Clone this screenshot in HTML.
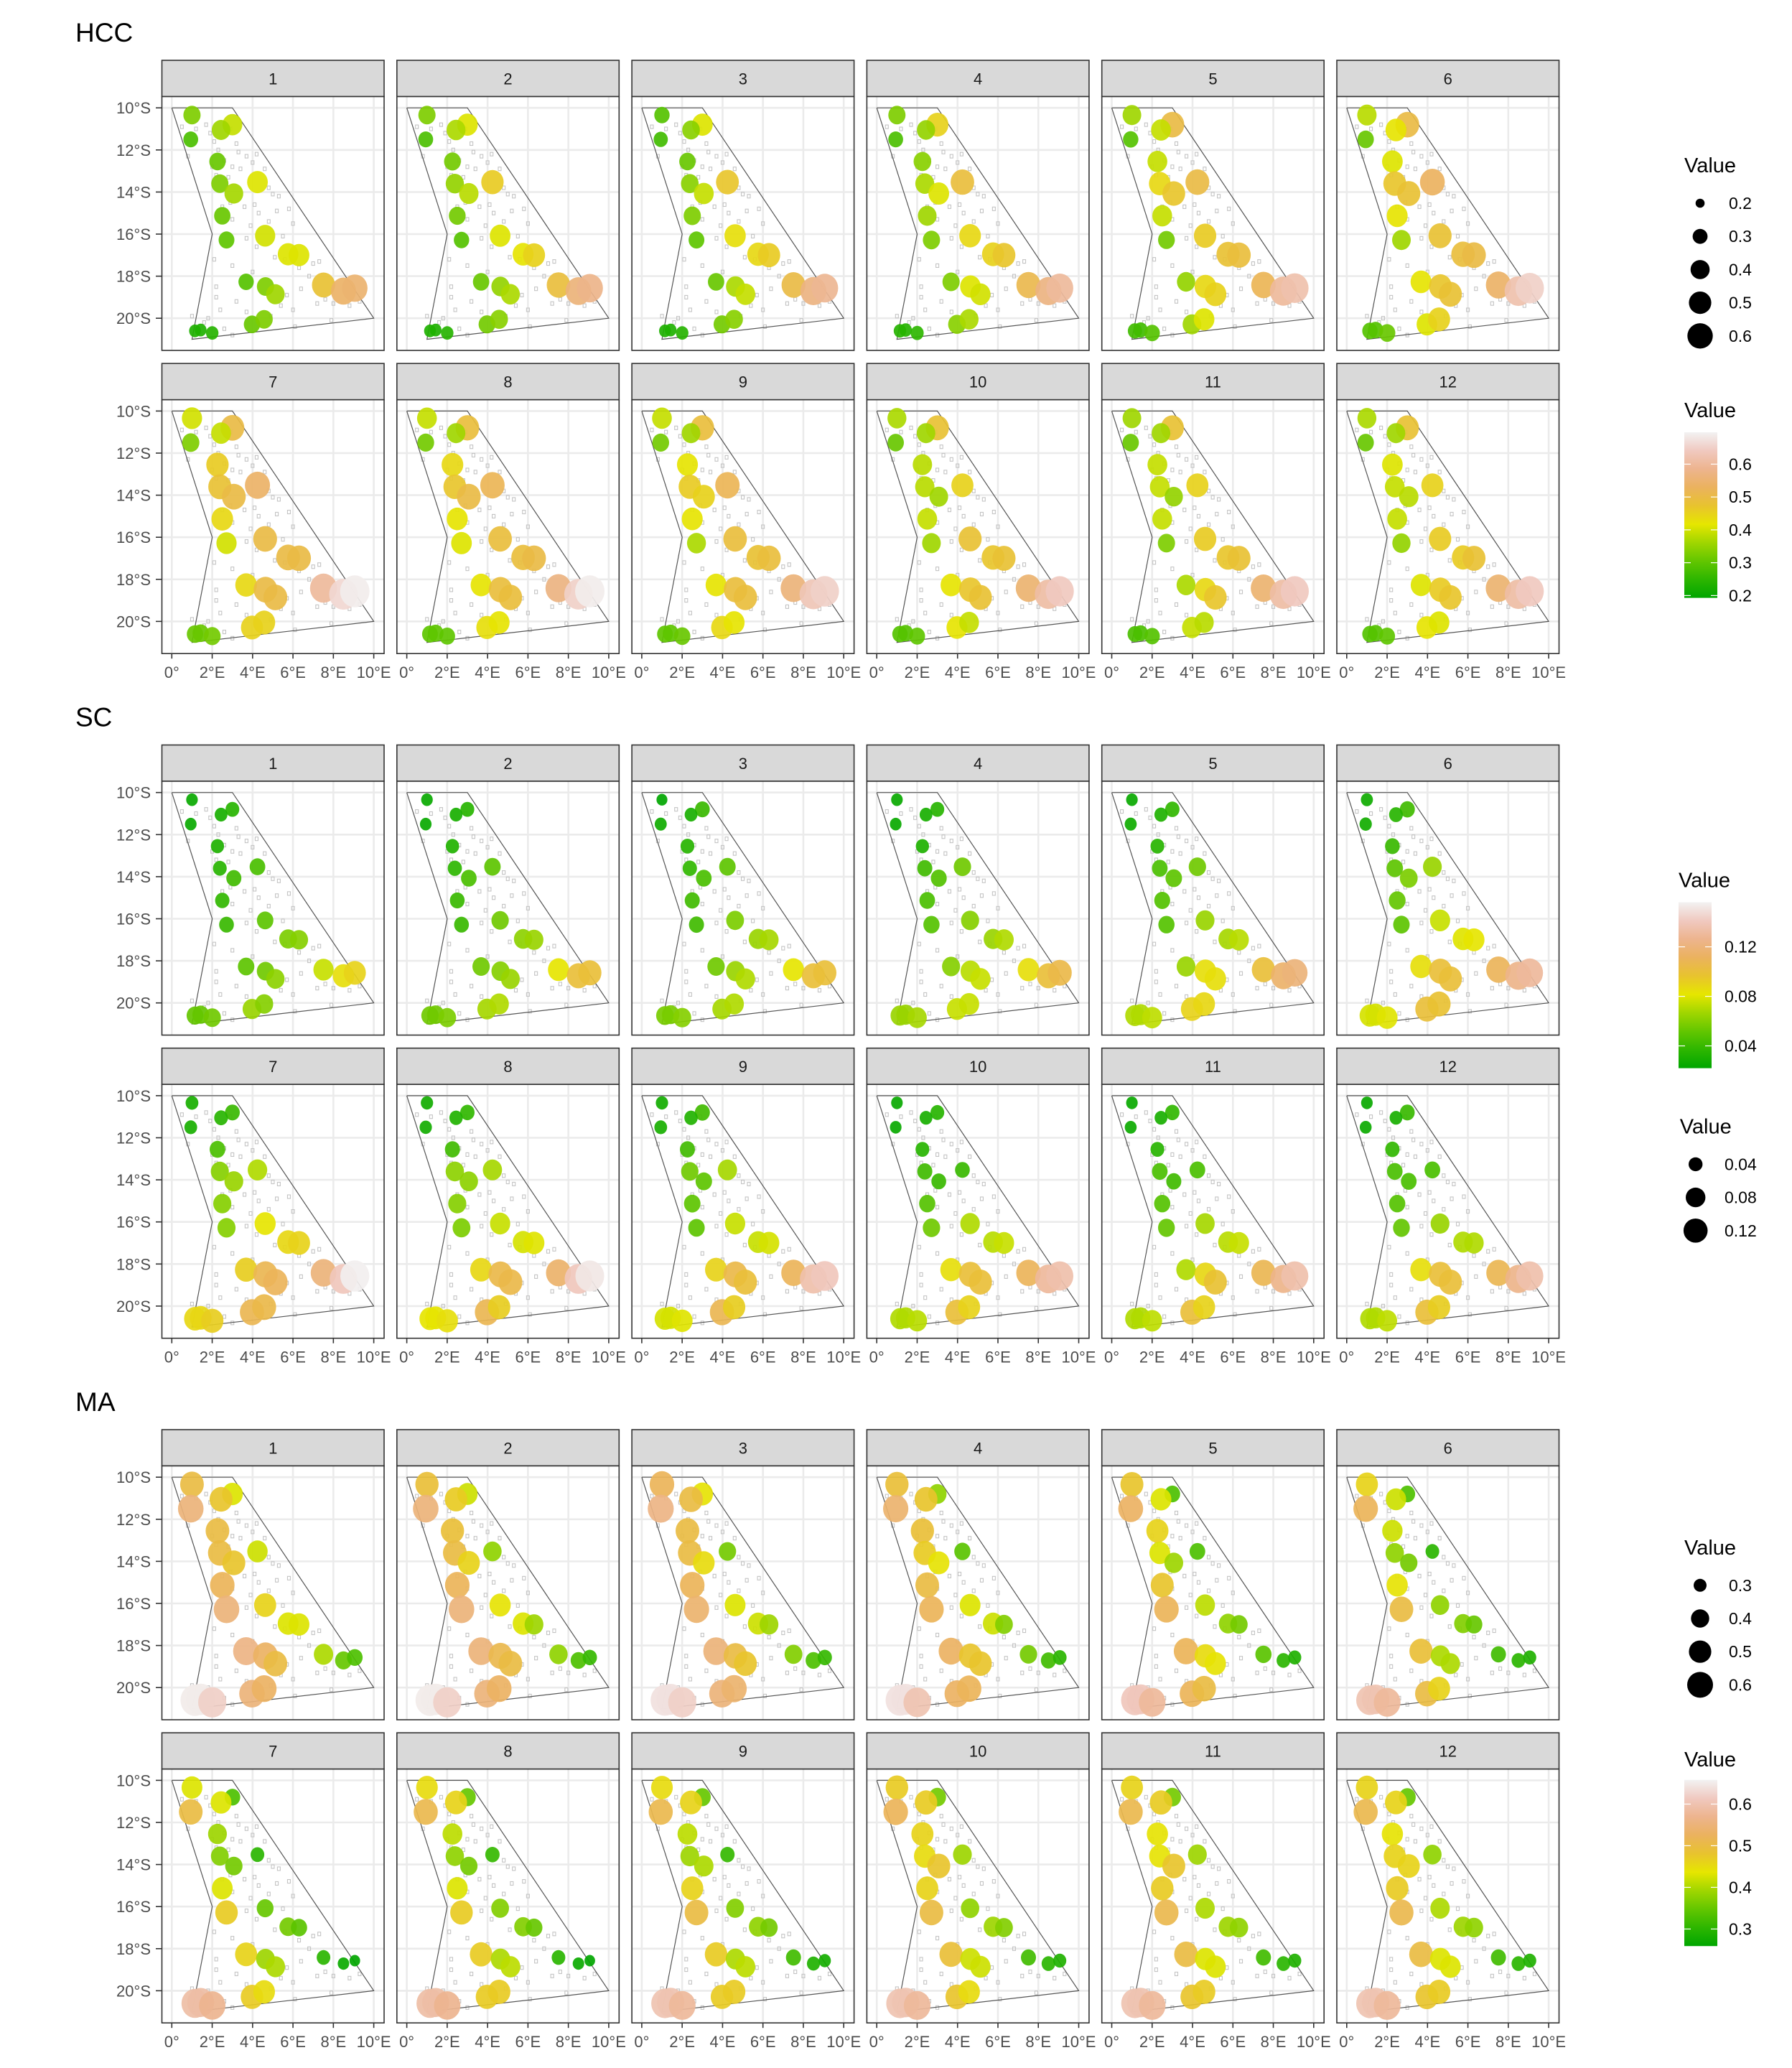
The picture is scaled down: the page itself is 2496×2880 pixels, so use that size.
<!DOCTYPE html>
<html><head><meta charset="utf-8"><style>
html,body{margin:0;padding:0;background:#fff;}
svg{display:block;font-family:"Liberation Sans",Arial,sans-serif;}
</style></head><body>
<svg id="fig" xmlns="http://www.w3.org/2000/svg" width="2496" height="2880" viewBox="0 0 2496 2880"></svg>
<script>
// ---- data ----
const stationLon = [1.0,3.0,2.44,0.94,2.26,2.38,4.24,3.07,2.5,2.71,4.62,5.76,6.3,3.68,4.64,5.13,7.51,8.5,9.06,3.97,4.57,1.43,1.15,2.0];
const stationLat = [10.34,10.8,11.05,11.5,12.55,13.6,13.53,14.07,15.13,16.28,16.08,16.96,17.0,18.27,18.49,18.86,18.42,18.71,18.57,20.29,20.05,20.56,20.6,20.7];
const monthLabels = ["1","2","3","4","5","6","7","8","9","10","11","12"];
const sectionNames = ["HCC","SC","MA"];
const lonTicks = [0,2,4,6,8,10];
const lonTickLabels = ["0°","2°E","4°E","6°E","8°E","10°E"];
const latTicks = [10,12,14,16,18,20];
const latTickLabels = ["10°S","12°S","14°S","16°S","18°S","20°S"];
const boundaryLon = [0,3,8.6,10,1,2,0];
const boundaryLat = [10,10,18,20,21.0,16,10];
const islandLon = [0.5,1.7,1.9,2.1,2.9,2.3,3.3,0.8,2.6,3.0,3.4,3.7,2.0,4.0,4.2,2.8,4.8,5.0,5.3,4.1,3.6,4.3,5.2,5.8,3.9,3.0,3.7,4.2,5.1,5.6,6.3,7.0,7.3,2.1,3.0,4.0,6.8,2.2,2.2,2.4,3.2,1.8,2.6,3.7,4.9,5.4,6.0,7.2,7.6,8.0,8.8,9.3,6.1,7.9,5.7,6.4,1.0,3.0,1.6,2.9,2.5,1.2,3.2,2.2,4.6,5.5,6.0,4.8];
const islandLat = [10.9,10.8,11.2,11.6,11.0,12.0,12.1,12.3,12.5,12.8,12.9,12.3,12.8,12.6,12.2,13.3,13.8,14.1,14.2,14.6,14.7,15.0,14.9,14.8,15.6,15.3,16.2,16.6,17.1,17.2,17.6,17.4,17.3,17.2,17.5,17.8,18.0,18.5,19.0,19.6,19.2,20.0,20.5,19.7,19.9,19.4,19.6,19.3,19.1,19.3,19.4,19.2,20.4,20.1,18.9,18.6,19.9,20.8,20.2,14.5,14.7,11.0,11.7,13.2,12.9,16.1,15.5,15.4];

const hccValues = [
[0.33,0.39,0.36,0.28,0.31,0.33,0.41,0.365,0.31,0.30,0.40,0.41,0.41,0.29,0.33,0.36,0.48,0.54,0.55,0.31,0.33,0.23,0.23,0.24],
[0.33,0.41,0.37,0.28,0.32,0.35,0.46,0.38,0.32,0.29,0.41,0.42,0.45,0.31,0.35,0.37,0.49,0.56,0.58,0.32,0.34,0.23,0.23,0.24],
[0.29,0.41,0.34,0.27,0.31,0.34,0.47,0.39,0.33,0.30,0.43,0.44,0.46,0.31,0.37,0.39,0.50,0.57,0.59,0.32,0.34,0.23,0.23,0.24],
[0.33,0.45,0.35,0.28,0.34,0.37,0.49,0.41,0.36,0.33,0.44,0.45,0.47,0.33,0.41,0.40,0.51,0.57,0.60,0.34,0.37,0.24,0.24,0.25],
[0.36,0.50,0.39,0.29,0.39,0.44,0.50,0.47,0.39,0.32,0.46,0.48,0.49,0.35,0.44,0.45,0.52,0.60,0.62,0.36,0.41,0.27,0.27,0.29],
[0.38,0.50,0.42,0.31,0.41,0.47,0.53,0.48,0.42,0.36,0.48,0.49,0.50,0.42,0.47,0.48,0.54,0.62,0.65,0.41,0.45,0.29,0.29,0.31],
[0.40,0.50,0.39,0.33,0.46,0.48,0.54,0.50,0.44,0.40,0.50,0.50,0.50,0.44,0.50,0.50,0.60,0.66,0.69,0.45,0.45,0.31,0.31,0.32],
[0.39,0.49,0.36,0.32,0.44,0.47,0.52,0.50,0.42,0.41,0.49,0.49,0.50,0.42,0.49,0.49,0.57,0.65,0.69,0.43,0.42,0.30,0.30,0.30],
[0.39,0.49,0.36,0.32,0.42,0.46,0.52,0.45,0.42,0.37,0.49,0.48,0.49,0.42,0.49,0.49,0.56,0.63,0.65,0.44,0.42,0.30,0.30,0.31],
[0.37,0.48,0.36,0.31,0.38,0.38,0.45,0.36,0.39,0.36,0.48,0.47,0.48,0.42,0.47,0.48,0.55,0.61,0.64,0.42,0.39,0.29,0.29,0.30],
[0.36,0.48,0.36,0.31,0.39,0.39,0.45,0.35,0.39,0.33,0.46,0.47,0.48,0.37,0.44,0.47,0.55,0.61,0.64,0.39,0.38,0.28,0.28,0.29],
[0.37,0.48,0.36,0.31,0.41,0.39,0.45,0.38,0.39,0.35,0.46,0.46,0.48,0.41,0.46,0.47,0.55,0.61,0.64,0.42,0.41,0.29,0.29,0.30]];
const scValues = [
[0.025,0.035,0.03,0.025,0.032,0.035,0.045,0.042,0.038,0.04,0.05,0.058,0.06,0.05,0.055,0.062,0.075,0.085,0.09,0.065,0.06,0.052,0.052,0.055],
[0.025,0.035,0.03,0.025,0.033,0.037,0.05,0.045,0.04,0.04,0.055,0.062,0.065,0.055,0.06,0.065,0.082,0.1,0.1,0.068,0.07,0.055,0.055,0.058],
[0.022,0.04,0.03,0.027,0.035,0.038,0.05,0.045,0.042,0.042,0.058,0.065,0.068,0.055,0.065,0.07,0.082,0.1,0.1,0.068,0.07,0.057,0.057,0.06],
[0.025,0.035,0.03,0.025,0.032,0.042,0.055,0.047,0.045,0.048,0.06,0.065,0.07,0.06,0.072,0.075,0.085,0.1,0.105,0.075,0.075,0.065,0.065,0.068],
[0.025,0.038,0.032,0.027,0.035,0.045,0.055,0.05,0.047,0.048,0.065,0.068,0.072,0.065,0.085,0.085,0.1,0.115,0.12,0.09,0.088,0.07,0.07,0.073],
[0.027,0.042,0.035,0.028,0.04,0.05,0.065,0.058,0.052,0.05,0.075,0.08,0.082,0.085,0.1,0.1,0.11,0.125,0.13,0.1,0.098,0.078,0.078,0.08],
[0.03,0.04,0.035,0.03,0.045,0.06,0.07,0.065,0.06,0.06,0.082,0.088,0.09,0.092,0.108,0.11,0.12,0.14,0.155,0.108,0.105,0.088,0.088,0.092],
[0.028,0.038,0.033,0.028,0.042,0.062,0.068,0.062,0.06,0.058,0.075,0.078,0.08,0.088,0.105,0.105,0.115,0.14,0.152,0.108,0.092,0.082,0.082,0.085],
[0.028,0.042,0.033,0.03,0.042,0.055,0.068,0.05,0.05,0.05,0.075,0.075,0.078,0.09,0.105,0.1,0.11,0.135,0.14,0.108,0.092,0.078,0.078,0.08],
[0.025,0.035,0.03,0.025,0.035,0.042,0.04,0.04,0.048,0.055,0.07,0.072,0.075,0.085,0.1,0.1,0.11,0.13,0.135,0.1,0.09,0.07,0.07,0.072],
[0.025,0.038,0.03,0.026,0.035,0.045,0.045,0.042,0.048,0.052,0.068,0.072,0.075,0.07,0.088,0.098,0.108,0.125,0.135,0.1,0.09,0.07,0.07,0.073],
[0.025,0.04,0.03,0.026,0.038,0.045,0.045,0.045,0.048,0.052,0.065,0.07,0.07,0.085,0.1,0.1,0.108,0.125,0.135,0.1,0.092,0.07,0.07,0.073]];
const maValues = [
[0.50,0.43,0.48,0.55,0.50,0.50,0.42,0.48,0.52,0.55,0.46,0.43,0.43,0.56,0.53,0.50,0.40,0.35,0.33,0.55,0.53,0.65,0.65,0.62],
[0.49,0.42,0.47,0.55,0.49,0.50,0.38,0.46,0.52,0.55,0.44,0.43,0.39,0.55,0.51,0.50,0.38,0.33,0.31,0.55,0.53,0.65,0.65,0.62],
[0.52,0.44,0.50,0.56,0.50,0.50,0.36,0.45,0.52,0.54,0.43,0.42,0.39,0.55,0.50,0.48,0.37,0.33,0.31,0.55,0.54,0.64,0.64,0.62],
[0.49,0.38,0.48,0.54,0.49,0.47,0.34,0.44,0.50,0.52,0.43,0.42,0.37,0.53,0.48,0.48,0.36,0.32,0.30,0.53,0.52,0.64,0.64,0.60],
[0.48,0.33,0.43,0.53,0.46,0.43,0.33,0.39,0.48,0.52,0.41,0.38,0.36,0.52,0.45,0.44,0.34,0.30,0.29,0.52,0.50,0.61,0.61,0.58],
[0.46,0.33,0.42,0.52,0.42,0.38,0.30,0.36,0.44,0.50,0.38,0.37,0.35,0.49,0.40,0.40,0.32,0.30,0.29,0.50,0.46,0.60,0.60,0.58],
[0.43,0.33,0.43,0.50,0.39,0.37,0.30,0.36,0.43,0.47,0.35,0.36,0.34,0.46,0.39,0.40,0.30,0.27,0.26,0.47,0.45,0.59,0.59,0.57],
[0.45,0.35,0.46,0.51,0.41,0.38,0.31,0.36,0.43,0.47,0.37,0.37,0.35,0.47,0.40,0.41,0.30,0.27,0.26,0.47,0.47,0.59,0.59,0.57],
[0.45,0.35,0.46,0.51,0.41,0.39,0.31,0.40,0.46,0.50,0.37,0.38,0.36,0.47,0.40,0.41,0.32,0.29,0.28,0.47,0.47,0.60,0.60,0.58],
[0.47,0.36,0.47,0.52,0.46,0.45,0.39,0.48,0.46,0.50,0.38,0.39,0.37,0.49,0.42,0.42,0.32,0.30,0.29,0.48,0.45,0.60,0.60,0.58],
[0.46,0.36,0.47,0.51,0.44,0.44,0.39,0.48,0.47,0.51,0.40,0.39,0.38,0.50,0.43,0.43,0.32,0.30,0.29,0.48,0.47,0.60,0.60,0.58],
[0.46,0.35,0.46,0.51,0.44,0.46,0.38,0.46,0.47,0.51,0.40,0.39,0.38,0.50,0.43,0.43,0.32,0.30,0.29,0.48,0.47,0.60,0.60,0.58]];
const sectionValues = [hccValues, scValues, maValues];
const colorRanges = [[0.193,0.697],[0.022,0.156],[0.259,0.658]];
const colorTickValues = [[0.2,0.3,0.4,0.5,0.6],[0.04,0.08,0.12],[0.3,0.4,0.5,0.6]];
const colorTickLabels = [["0.2","0.3","0.4","0.5","0.6"],["0.04","0.08","0.12"],["0.3","0.4","0.5","0.6"]];
const sizeKeyValues = [[0.2,0.3,0.4,0.5,0.6],[0.04,0.08,0.12],[0.3,0.4,0.5,0.6]];
const sizeKeyLabels = [["0.2","0.3","0.4","0.5","0.6"],["0.04","0.08","0.12"],["0.3","0.4","0.5","0.6"]];
const terrain = ["#00A600","#2DB600","#63C600","#A0D600","#E6E600","#E8C32E","#EBB25E","#EDB48E","#F0C9C0","#F2F2F2"];

// ---- layout ----
const NS="http://www.w3.org/2000/svg";
const svg=document.getElementById('fig');
const COL0=225.5, COLP=327.3, PW=309.5, TOP0=84, SECP=953.5, ROWP=422.2, SH=50.5, PH=353.5;
const sizeParams=[[40,683,0.2],[94,2350,0.04],[81,810,0.3]];
function el(tag,attrs,parent){const e=document.createElementNS(NS,tag);for(const k in attrs)e.setAttribute(k,attrs[k]);(parent||svg).appendChild(e);return e;}
function hex2rgb(h){return [parseInt(h.substr(1,2),16),parseInt(h.substr(3,2),16),parseInt(h.substr(5,2),16)];}
function colorScale(s,v){const lo=colorRanges[s][0],hi=colorRanges[s][1];let t=(v-lo)/(hi-lo);t=Math.max(0,Math.min(1,t))*9;const i=Math.min(8,Math.floor(t)),f=t-i;const a=hex2rgb(terrain[i]),b=hex2rgb(terrain[i+1]);return 'rgb('+a.map((x,k)=>Math.round(x+(b[k]-x)*f)).join(',')+')';}
function sizeScale(s,v){const p=sizeParams[s];return Math.sqrt(Math.max(16,p[0]+(v-p[2])*p[1]));}
function xScale(c,lon){return COL0+c*COLP+13.8+lon*28.13;}
function yScale(s,r,lat){return TOP0+s*SECP+r*ROWP+SH+15.7+(lat-10)*29.3;}

for(let s=0;s<3;s++){
  const t=el('text',{x:105,y:58+s*SECP,'font-size':37,fill:'#000'});t.textContent=sectionNames[s];
  
  
  for(let r=0;r<2;r++)for(let c=0;c<6;c++){
    const m=r*6+c;
    const g=el('g',{});
    
    
    const px=COL0+c*COLP, st=TOP0+s*SECP+r*ROWP, pt=st+SH;
    const strip=el('rect',{x:px,y:st,width:PW,height:SH,fill:'#d9d9d9',stroke:'#333','stroke-width':1.6},g);
    
    
    const sl=el('text',{x:px+PW/2,y:st+SH/2+8,'font-size':22,'text-anchor':'middle',fill:'#1a1a1a'},g);sl.textContent=monthLabels[m];
    
    
    el('rect',{x:px,y:pt,width:PW,height:PH,fill:'#fff'},g);
    lonTicks.forEach(v=>el('line',{x1:xScale(c,v),x2:xScale(c,v),y1:pt,y2:pt+PH,stroke:'#ebebeb','stroke-width':2.6},g));
    latTicks.forEach(v=>el('line',{x1:px,x2:px+PW,y1:yScale(s,r,v),y2:yScale(s,r,v),stroke:'#ebebeb','stroke-width':2.6},g));
    islandLon.forEach((lo,i)=>el('rect',{x:xScale(c,lo)-2,y:yScale(s,r,islandLat[i])-2.5,width:4,height:5,fill:'none',stroke:'#c4c4c4','stroke-width':1.1},g));
    const pts=boundaryLon.map((lo,i)=>xScale(c,lo).toFixed(1)+','+yScale(s,r,boundaryLat[i]).toFixed(1)).join(' ');
    const b=el('polyline',{points:pts,fill:'none',stroke:'#555','stroke-width':1.2},g);
    
    
    const vals=sectionValues[s][m];
    vals.forEach((v,i)=>{
      const rr=sizeScale(s,v)*1.06;
      const p=el('ellipse',{cx:xScale(c,stationLon[i]).toFixed(1),cy:yScale(s,r,stationLat[i]).toFixed(1),rx:rr.toFixed(1),ry:(rr*1.08).toFixed(1),fill:colorScale(s,v),'fill-opacity':0.92},g);
      
      
    });
    el('rect',{x:px,y:pt,width:PW,height:PH,fill:'none',stroke:'#333','stroke-width':1.6},g);
    if(c===0){
      latTicks.forEach((v,i)=>{const y=yScale(s,r,v);el('line',{x1:217,x2:225,y1:y,y2:y,stroke:'#333','stroke-width':1.6},g);
        const tl=el('text',{x:210,y:y+8,'font-size':22,'text-anchor':'end',fill:'#4d4d4d'},g);tl.textContent=latTickLabels[i];
        
        });
    }
    if(r===1){
      lonTicks.forEach((v,i)=>{const x=xScale(c,v);el('line',{x1:x,x2:x,y1:pt+PH,y2:pt+PH+7,stroke:'#333','stroke-width':1.6},g);
        const tl=el('text',{x:x,y:pt+PH+34,'font-size':22,'text-anchor':'middle',fill:'#4d4d4d'},g);tl.textContent=lonTickLabels[i];
        
        });
    }
  }
}

// ---- legends ----
const defs=el('defs',{});
const grad=el('linearGradient',{id:'terr',x1:0,y1:1,x2:0,y2:0},defs);
terrain.forEach((c,i)=>el('stop',{offset:(i/9).toFixed(4),'stop-color':c},grad));
function sizeLegend(s,titleY,cx,labelX){
  const g=el('g',{});
  
  
  const t=el('text',{x:cx-22,y:titleY,'font-size':29,fill:'#000'},g);t.textContent='Value';
  sizeKeyValues[s].forEach((v,i)=>{const y=titleY+43+i*46.2;
    el('circle',{cx:cx,cy:y,r:sizeScale(s,v).toFixed(1),fill:'#000'},g);
    const l=el('text',{x:labelX,y:y+8,'font-size':23,fill:'#000'},g);l.textContent=sizeKeyLabels[s][i];});
}
function colorLegend(s,titleY,barX,top,bottom,labelX){
  const g=el('g',{});
  
  
  const t=el('text',{x:barX,y:titleY,'font-size':29,fill:'#000'},g);t.textContent='Value';
  el('rect',{x:barX,y:top,width:46,height:bottom-top,fill:'url(#terr)'},g);
  const lo=colorRanges[s][0],hi=colorRanges[s][1];
  colorTickValues[s].forEach((v,i)=>{const y=bottom-(v-lo)/(hi-lo)*(bottom-top);
    el('line',{x1:barX,x2:barX+9,y1:y,y2:y,stroke:'#fff','stroke-width':1.2},g);
    el('line',{x1:barX+37,x2:barX+46,y1:y,y2:y,stroke:'#fff','stroke-width':1.2},g);
    const l=el('text',{x:labelX,y:y+8,'font-size':23,fill:'#000'},g);l.textContent=colorTickLabels[s][i];});
}
sizeLegend(0,240,2368,2408);
colorLegend(0,581,2346,602,832.6,2408);
colorLegend(1,1235.6,2338,1256.5,1487.6,2402);
sizeLegend(1,1578.4,2361.7,2402);
sizeLegend(2,2164.8,2368,2408);
colorLegend(2,2459.8,2346,2478.8,2710.2,2408);
</script>
</body></html>
